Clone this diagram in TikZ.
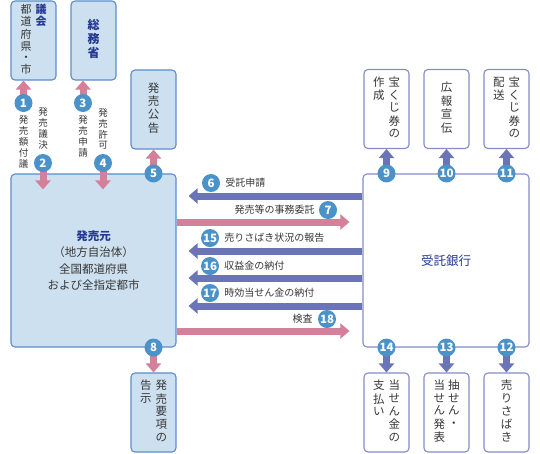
\documentclass[tikz,border=0pt]{standalone}
\usepackage{fontspec}
\setmainfont{Noto Sans CJK JP}
\usetikzlibrary{arrows.meta,calc,positioning}
\definecolor{pinkarr}{RGB}{212,128,155}
\definecolor{bluearr}{RGB}{106,116,182}
\definecolor{numblue}{RGB}{74,146,200}
\definecolor{boxfill}{RGB}{205,224,240}
\definecolor{boxline}{RGB}{92,140,200}
\definecolor{bankline}{RGB}{134,140,200}
\definecolor{titleblue}{RGB}{38,56,150}
\definecolor{txtgray}{RGB}{55,55,55}
\newcommand{\tatecol}[1]{\begin{tabular}[t]{@{}c@{}}#1\end{tabular}}

\begin{document}
\begin{tikzpicture}[x=1pt,y=-1pt,text=txtgray,font=\fontsize{11.5}{12.5}\selectfont,
  lbox/.style={draw=boxline,fill=boxfill,line width=1.1pt,rounded corners=4pt,minimum width=45pt,minimum height=79pt,inner sep=0pt},
  wbox/.style={draw=bankline,fill=white,line width=1.1pt,rounded corners=4pt,minimum width=45pt,minimum height=79pt,inner sep=0pt},
  num/.style={circle,fill=numblue,text=white,minimum size=18pt,inner sep=0pt,font=\fontsize{11.5}{11.5}\selectfont\bfseries},
  parr/.style={draw=pinkarr,line width=7pt,-{Triangle[length=9pt,width=15pt]}},
  barr/.style={draw=bluearr,line width=7pt,-{Triangle[length=9pt,width=15pt]}},
  lab/.style={inner sep=0pt,font=\fontsize{10}{10}\selectfont},
  vlab/.style={inner sep=0pt,font=\fontsize{9.5}{10}\selectfont}]
\useasboundingbox (0,0) rectangle (540,453);

\node[lbox,font=\fontsize{11}{11}\selectfont] (gikai) at (33.5,40.5) {\tatecol{都\\道\\府\\県\\・\\市}\hspace{4pt}{\color{titleblue}\bfseries\tatecol{議\\会}}};
\node[lbox,font=\fontsize{12}{13.5}\selectfont] (somu) at (93.5,40.5) {{\color{titleblue}\bfseries\tatecol{総\\務\\省}}};
\node[lbox,font=\fontsize{11.5}{13}\selectfont] (kokoku) at (153.5,109.5) {\tatecol{発\\売\\公\\告}};
\node[lbox,minimum width=165pt,minimum height=173pt,align=center,font=\fontsize{11.5}{16.5}\selectfont] (moto) at (93.5,260.5)
  {{\color{titleblue}\bfseries 発売元}\\（地方自治体）\\全国都道府県\\および全指定都市};
\node[lbox] (kokuji) at (153.5,412.5) {\tatecol{告\\示}\hspace{4pt}\tatecol{発\\売\\要\\項\\の}};

\node[wbox,minimum width=166pt,minimum height=173pt,text=titleblue,font=\fontsize{12.5}{13}\selectfont] (bank) at (446,260.5) {受託銀行};
\node[wbox] (sakusei) at (386.5,109) {\tatecol{作\\成}\hspace{4pt}\tatecol{宝\\く\\じ\\券\\の}};
\node[wbox] (koho) at (446.5,109) {\tatecol{広\\報\\宣\\伝}};
\node[wbox] (haiso) at (506.5,109) {\tatecol{配\\送}\hspace{4pt}\tatecol{宝\\く\\じ\\券\\の}};
\node[wbox] (shiharai) at (386.5,412.5) {\tatecol{支\\払\\い}\hspace{4pt}\tatecol{当\\せ\\ん\\金\\の}};
\node[wbox] (happyo) at (446.5,412.5) {\tatecol{当\\せ\\ん\\発\\表}\hspace{3pt}\tatecol{抽\\せ\\ん\\・}};
\node[wbox] (urisabaki) at (506.5,412.5) {\tatecol{売\\り\\さ\\ば\\き}};

\coordinate (p1) at (23.5,103);
\coordinate (p2) at (43,163);
\coordinate (p3) at (83,103);
\coordinate (p4) at (103,163);
\coordinate (p5) at (kokoku.south |- moto.north);
\coordinate (p6) at (211,183);
\coordinate (p7) at (328,210);
\coordinate (p8) at (kokuji.north |- moto.south);
\coordinate (p9) at (sakusei.south |- bank.north);
\coordinate (p10) at (koho.south |- bank.north);
\coordinate (p11) at (haiso.south |- bank.north);
\coordinate (p12) at (urisabaki.north |- bank.south);
\coordinate (p13) at (happyo.north |- bank.south);
\coordinate (p14) at (shiharai.north |- bank.south);
\coordinate (p15) at (210,238);
\coordinate (p16) at (210,266);
\coordinate (p17) at (210,293);
\coordinate (p18) at (327,319);

\draw[parr] (p1) -- (p1 |- gikai.south);
\draw[parr,shorten >=-16pt] (p2) -- (p2 |- moto.north);
\draw[parr] (p3) -- (p3 |- somu.south);
\draw[parr,shorten >=-16pt] (p4) -- (p4 |- moto.north);
\draw[parr] (p5) -- (kokoku.south);
\draw[parr] (p8) -- (kokuji.north);
\draw[barr] (p9) -- (sakusei.south);
\draw[barr] (p10) -- (koho.south);
\draw[barr] (p11) -- (haiso.south);
\draw[barr] (p12) -- (urisabaki.north);
\draw[barr] (p13) -- (happyo.north);
\draw[barr] (p14) -- (shiharai.north);

\draw[barr,shorten >=12pt] (bank.west |- 0,196) -- (moto.east |- 0,196);
\draw[parr,shorten >=13pt] (moto.east |- 0,222) -- (bank.west |- 0,222);
\draw[barr,shorten >=12pt] (bank.west |- 0,251) -- (moto.east |- 0,251);
\draw[barr,shorten >=12pt] (bank.west |- 0,278) -- (moto.east |- 0,278);
\draw[barr,shorten >=12pt] (bank.west |- 0,306) -- (moto.east |- 0,306);
\draw[parr,shorten >=13pt] (moto.east |- 0,331) -- (bank.west |- 0,331);

\node[num] (n1) at (p1) {1};
\node[num] (n2) at (p2) {2};
\node[num] (n3) at (p3) {3};
\node[num] (n4) at (p4) {4};
\node[num] (n5) at (p5) {5};
\node[num] (n6) at (p6) {6};
\node[num] (n7) at (p7) {7};
\node[num] (n8) at (p8) {8};
\node[num] (n9) at (p9) {9};
\node[num] (n10) at (p10) {10};
\node[num] (n11) at (p11) {11};
\node[num] (n12) at (p12) {12};
\node[num] (n13) at (p13) {13};
\node[num] (n14) at (p14) {14};
\node[num] (n15) at (p15) {15};
\node[num] (n16) at (p16) {16};
\node[num] (n17) at (p17) {17};
\node[num] (n18) at (p18) {18};

\node[vlab,below=3pt of n1] (l1) {\tatecol{発\\売\\額\\付\\議}};
\node[vlab,above=2pt of n2] (l2) {\tatecol{発\\売\\議\\決}};
\node[vlab,below=3pt of n3] (l3) {\tatecol{発\\売\\申\\請}};
\node[vlab,above=2pt of n4] (l4) {\tatecol{発\\売\\許\\可}};

\node[lab,right=5pt of n6] (l6) {受託申請};
\node[lab,left=4pt of n7] (l7) {発売等の事務委託};
\node[lab,right=5pt of n15] (l15) {売りさばき状況の報告};
\node[lab,right=5pt of n16] (l16) {収益金の納付};
\node[lab,right=5pt of n17] (l17) {時効当せん金の納付};
\node[lab,left=5pt of n18] (l18) {検査};
\end{tikzpicture}
\end{document}
